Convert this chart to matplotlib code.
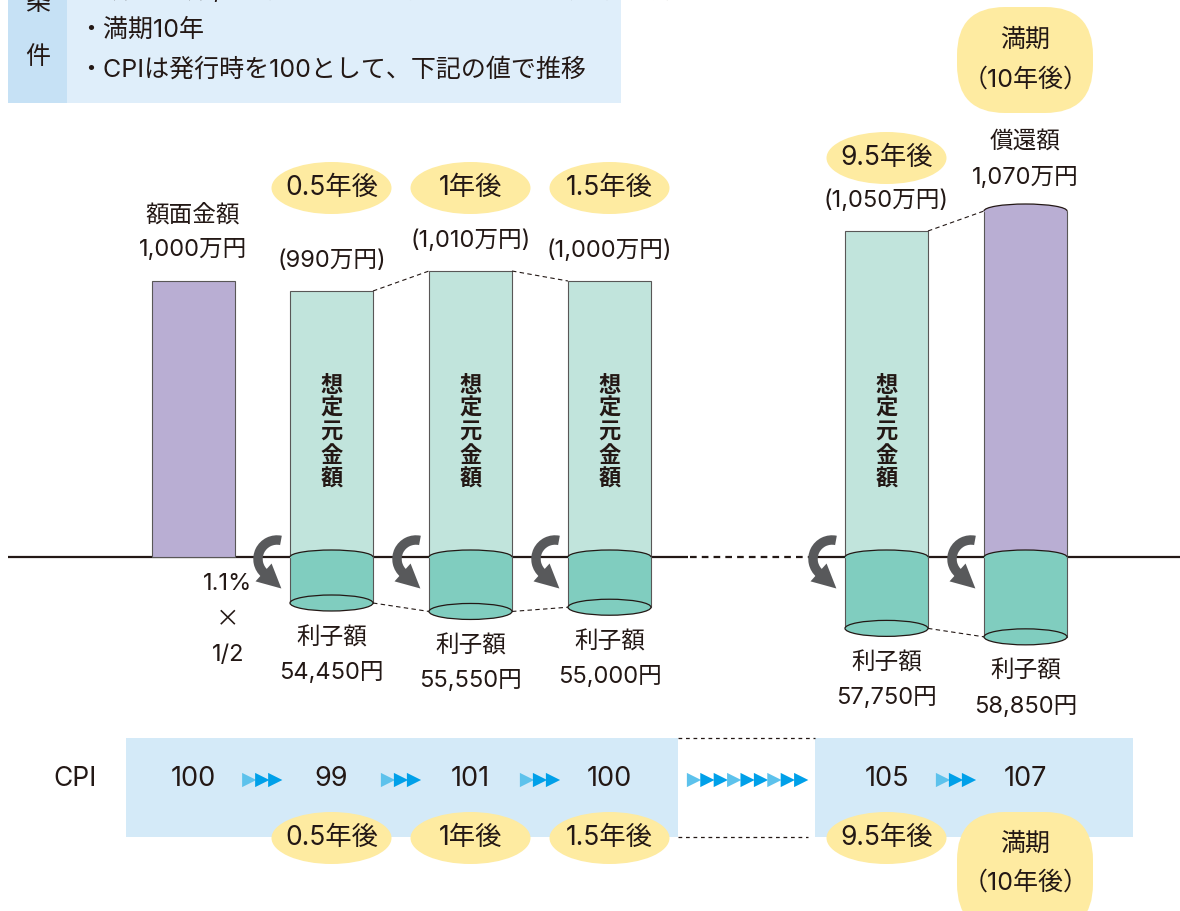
import matplotlib
matplotlib.use("Agg")
import matplotlib.pyplot as plt
from matplotlib.patches import Rectangle, Ellipse, Arc, FancyBboxPatch, Polygon
import numpy as np

plt.rcParams['font.family'] = ['Inter', 'Noto Sans CJK JP', 'DejaVu Sans']

# ---------------- data ----------------
period_labels = ["0.5年後", "1年後", "1.5年後", "9.5年後"]
maturity_label = ["満期", "（10年後）"]
face_value = 1000                          # 額面金額 (万円)
principal = [990, 1010, 1000, 1050]        # 想定元金額 (万円)
redemption = 1070                          # 償還額 (万円)
interest = [54450, 55550, 55000, 57750, 58850]   # 利子額 (円)
cpi = [100, 99, 101, 100, 105, 107]
condition_lines = ["・額面金額1,000万円、表面利率1.1%の物価連動国債",
                   "・満期10年",
                   "・CPIは発行時を100として、下記の値で推移"]
coupon_note = ["1.1%", "×", "1/2"]
bar_text = "想定元金額"

# ---------------- colours ----------------
TXT = "#231815"
PURPLE = "#B9AED3"
LGREEN = "#C1E4DC"
TEAL = "#80CDBF"
YELLOW = "#FEEBA1"
CPIBG = "#D4EAF8"
BOXL = "#C6E1F5"
BOXR = "#DFEEFA"
ARROW = "#58595B"
EDGE = "#595757"
TRI_L = "#5DC2EC"
TRI_D = "#00A0E9"

# ---------------- layout ----------------
W, H = 1180, 911
fig = plt.figure(figsize=(W / 100, H / 100), dpi=100)


def layer(z):
    a = fig.add_axes([0, 0, 1, 1], zorder=z)
    a.set_xlim(0, W)
    a.axis('off')
    a.patch.set_alpha(0)
    return a


bg = layer(0)
bg.set_ylim(H, 0)
axp = layer(1)
axi = layer(2)
fg = layer(3)
fg.set_ylim(H, 0)

BASE = 557          # pixel row of the base line
V0 = 724.0          # 万円 value sitting on the base line
PXM = 1.0           # pixels per 万円
axp.set_ylim(V0 - (H - BASE) / PXM, V0 + BASE / PXM)
I0 = 48470.0        # 円 value sitting on the base line
PXI = 1 / 130.0     # pixels per 円
axi.set_ylim(I0 + (H - BASE) / PXI, I0 - BASE / PXI)

XS = [193, 331.5, 470.5, 609.5, 886.5, 1025.5]
BW = 83


def to_px(a, x, y):
    d = a.transData.transform((x, y))
    return fg.transData.inverted().transform(d)


def txt(x, y, s, size=17, **kw):
    kw.setdefault('ha', 'center')
    kw.setdefault('va', 'center')
    fg.text(x, y, s, fontsize=size, color=TXT, **kw)


# ---------------- condition box ----------------
bg.add_patch(Rectangle((8, -5), 59, 108, fc=BOXL, ec='none'))
bg.add_patch(Rectangle((67, -5), 554, 108, fc=BOXR, ec='none'))
txt(38, 4, "条", 18)
txt(38, 57, "件", 18)
for y, line in zip([-10, 30, 70], condition_lines):
    txt(78, y, line, 18, ha='left')

# ---------------- base line ----------------
bg.plot([8, 688], [BASE, BASE], color=TXT, lw=1.6, solid_capstyle='butt')
bg.plot([690, 808], [BASE, BASE], color=TXT, lw=1.6, ls=(0, (3, 2.3)))
bg.plot([808, W], [BASE, BASE], color=TXT, lw=1.6, solid_capstyle='butt')

# ---------------- principal bars ----------------
pv = [face_value] + principal + [redemption]
bar_cols = [PURPLE] + [LGREEN] * len(principal) + [PURPLE]
axp.bar(XS, [v - V0 for v in pv], bottom=V0, width=BW, color=bar_cols,
        edgecolor=EDGE, lw=0.8)
# cylinder top of redemption bar
axp.add_patch(Ellipse((XS[5], redemption), BW, 14 / PXM, fc=PURPLE, ec='none', zorder=3))
axp.add_patch(Arc((XS[5], redemption), BW, 14 / PXM, theta1=0, theta2=180,
                  ec=TXT, lw=0.9, zorder=4))

# ---------------- interest cylinders ----------------
axi.bar(XS[1:], [v - I0 for v in interest], bottom=I0, width=BW, color=TEAL,
        edgecolor=EDGE, lw=0.8)
for x, v in zip(XS[1:], interest):
    axi.add_patch(Ellipse((x, I0), BW, 14 / PXI, fc=TEAL, ec='none', zorder=3))
    axi.add_patch(Arc((x, I0), BW, 14 / PXI, theta1=180, theta2=360,
                      ec=TXT, lw=0.9, zorder=4))
    axi.add_patch(Ellipse((x, v), BW, 16 / PXI, fc=TEAL, ec=TXT, lw=0.9, zorder=3))

# dashed connectors
iv = [None] + interest
for a, b in [(1, 2), (2, 3), (4, 5)]:
    axp.plot([XS[a] + BW / 2, XS[b] - BW / 2], [pv[a], pv[b]], color=TXT,
             lw=0.8, ls=(0, (4, 3)))
    axi.plot([XS[a] + BW / 2, XS[b] - BW / 2], [iv[a], iv[b]], color=TXT,
             lw=0.8, ls=(0, (4, 3)))

# ---------------- labels above bars ----------------
_, ptop = to_px(axp, XS[0], face_value)
txt(XS[0], ptop - 66, "額面金額")
txt(XS[0], ptop - 31, f"{face_value:,}万円")
for x, v in zip(XS[1:5], principal):
    _, p = to_px(axp, x, v)
    txt(x, p - 30, f"({v:,}万円)")
_, p = to_px(axp, XS[5], redemption)
txt(XS[5], p - 68, "償還額")
txt(XS[5], p - 33, f"{redemption:,}万円")

# vertical text inside bars
for x in XS[1:5]:
    for k, ch in enumerate(bar_text):
        txt(x, 385 + k * 23.5, ch, 16, fontweight='bold')

# ---------------- interest labels ----------------
for x, v in zip(XS[1:], interest):
    _, p = to_px(axi, x, v)
    txt(x, p + 35, "利子額")
    txt(x, p + 70, f"{v:,}円")

for y, s in zip([584, 620, 655], coupon_note):
    if s == "×":
        txt(228, y, s, 17, family=['Noto Sans CJK JP'])
    else:
        txt(228, y, s)

# ---------------- curved arrows ----------------
for x in XS[1:]:
    L = x - BW / 2
    cx, cy, r = L - 13, 559, 19
    fg.add_patch(Arc((cx, cy), 2 * r, 2 * r, theta1=130, theta2=282,
                     ec=ARROW, lw=6.8, capstyle='butt'))
    th = np.deg2rad(228)
    ex, ey = cx + r * np.cos(th), cy - r * np.sin(th)
    t = np.array([-np.sin(th), -np.cos(th)])
    n = np.array([-t[1], t[0]])
    base = np.array([ex, ey]) - 1 * t
    tip = np.array([ex, ey]) + 23 * t
    fg.add_patch(Polygon([base + 12 * n, tip, base - 12 * n], closed=True,
                         fc=ARROW, ec='none'))

# ---------------- badges ----------------
top_badge_y = [188, 188, 188, 158]
for x, y, s in zip(XS[1:5], top_badge_y, period_labels):
    bg.add_patch(Ellipse((x, y), 120, 52, fc=YELLOW, ec='none'))
    txt(x, y, s, 19)
bg.add_patch(FancyBboxPatch((957, 7), 136, 106, boxstyle="round,pad=0,rounding_size=48",
                            fc=YELLOW, ec='none'))
txt(XS[5], 40, maturity_label[0], 18)
txt(XS[5], 80, maturity_label[1], 18)

# ---------------- CPI row ----------------
bg.add_patch(Rectangle((126, 738), 552, 99, fc=CPIBG, ec='none'))
bg.add_patch(Rectangle((815, 738), 318, 99, fc=CPIBG, ec='none'))
bg.plot([678, 815], [738, 738], color=TXT, lw=0.9, ls=(0, (3, 3)))
bg.plot([678, 808], [837, 837], color=TXT, lw=0.9, ls=(0, (3, 3)))
txt(75, 779, "CPI", 19)
for x, v in zip(XS, cpi):
    txt(x, 779, f"{v}", 19.5)

tri_x, tri_c = [], []
for a, b in [(0, 1), (1, 2), (2, 3), (4, 5)]:
    m = (XS[a] + XS[b]) / 2
    for k, c in zip([-13, 0, 13], [TRI_L, TRI_D, TRI_D]):
        tri_x.append(m + k)
        tri_c.append(c)
for k in range(9):
    tri_x.append(694 + 13.4 * k)
    tri_c.append([TRI_L, TRI_D, TRI_D][k % 3])
fg.scatter(tri_x, [780] * len(tri_x), marker='>', s=105, c=tri_c, linewidths=0)

for x, s in zip(XS[1:5], period_labels):
    bg.add_patch(Ellipse((x, 838), 120, 52, fc=YELLOW, ec='none'))
    txt(x, 838, s, 19)
bg.add_patch(FancyBboxPatch((957, 812), 136, 120, boxstyle="round,pad=0,rounding_size=48",
                            fc=YELLOW, ec='none'))
txt(XS[5], 844, maturity_label[0], 18)
txt(XS[5], 883, maturity_label[1], 18)

fig.savefig("out.png", dpi=100)
